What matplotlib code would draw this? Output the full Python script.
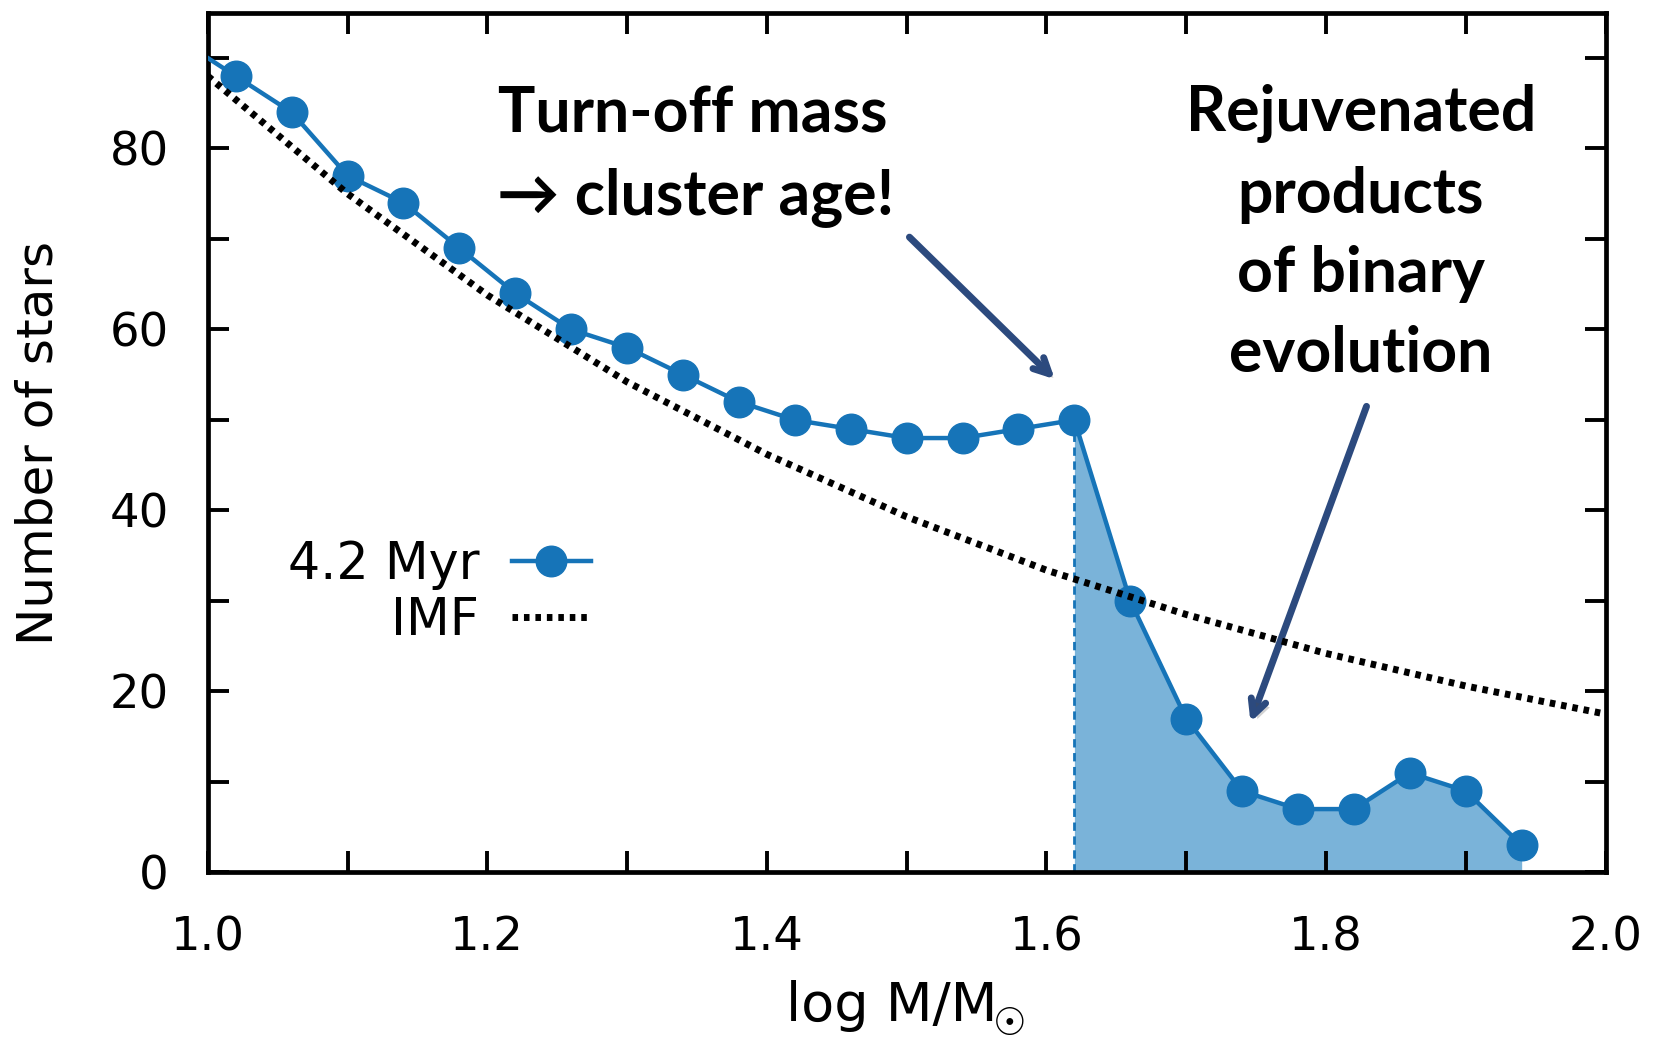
import matplotlib
matplotlib.use("Agg")
import matplotlib.pyplot as plt
import matplotlib.patheffects as pe
from matplotlib.ticker import MultipleLocator

# ---- data ----
mass = [0.98, 1.02, 1.06, 1.10, 1.14, 1.18, 1.22, 1.26, 1.30, 1.34, 1.38, 1.42,
        1.46, 1.50, 1.54, 1.58, 1.62, 1.66, 1.70, 1.74, 1.78, 1.82, 1.86, 1.90, 1.94]
stars = [92, 88, 84, 77, 74, 69, 64, 60, 58, 55, 52, 50,
         49, 48, 48, 49, 50, 30, 17, 9, 7, 7, 11, 9, 3]
imf_x = [1.0, 1.1, 1.2, 1.3, 1.4, 1.5, 1.6, 1.7, 1.8, 1.9, 2.0]
imf_y = [88, 75, 63.8, 54.2, 46.2, 39.3, 33.4, 28.5, 24.2, 20.6, 17.5]
turnoff = 1.62
series_label = "4.2 Myr"
imf_label = "IMF"
xticks = [1.0, 1.2, 1.4, 1.6, 1.8, 2.0]
yticks = [0, 20, 40, 60, 80]

BLUE = "#1674b8"
FILL = "#7ab3d9"
NAVY = "#2c4a7e"

plt.rcParams['font.family'] = ['DejaVu Sans']

fig = plt.figure(figsize=(16.54, 10.52), dpi=100)
ax = fig.add_axes([0.1256, 0.1707, 0.8451, 0.8172])

# shaded region beyond turn-off
sx = [m for m in mass if m >= turnoff - 1e-9]
sy = [s for m, s in zip(mass, stars) if m >= turnoff - 1e-9]
ax.fill_between(sx, 0, sy, color=FILL, lw=0, zorder=1)
ax.vlines(turnoff, 0, sy[0], colors=BLUE, linestyles=(0, (3, 2)), lw=2.0, zorder=2)

ax.plot(mass, stars, color=BLUE, lw=3.2, marker='o', ms=22, mec=BLUE, mfc=BLUE,
        label=series_label, zorder=3, clip_on=True)
ax.plot(imf_x, imf_y, color='black', lw=5.0, linestyle=(0, (0.8, 0.85)),
        label=imf_label, zorder=4)

ax.set_xlim(1.0, 2.0)
ax.set_ylim(0, 95)
ax.set_xticks(xticks)
ax.set_yticks(yticks)
ax.set_xticklabels([f"{t:.1f}" for t in xticks])
ax.xaxis.set_minor_locator(MultipleLocator(0.1))
ax.yaxis.set_minor_locator(MultipleLocator(10))
ax.tick_params(which='both', direction='in', top=True, right=True,
               length=15, width=2.8, color='black')
ax.tick_params(axis='x', which='major', labelsize=33.5, pad=31)
ax.tick_params(axis='y', which='major', labelsize=33.5, pad=28)
for sp in ax.spines.values():
    sp.set_linewidth(3.4)

ax.set_xlabel("log M/M", fontsize=39)
ax.xaxis.set_label_coords(0.489, -0.125)
# solar symbol subscript
ax.text(0.574, -0.1775, "\u2609", transform=ax.transAxes, fontsize=27,
        ha='center', va='center', color='black')
ax.set_ylabel("Number of stars", fontsize=36)
ax.yaxis.set_label_coords(-0.104, 0.5)

leg = ax.legend(loc='center right', bbox_to_anchor=(0.274, 0.325), frameon=False,
                markerfirst=False, fontsize=36.5, handlelength=1.55,
                handletextpad=0.65, labelspacing=0.12, borderpad=0, borderaxespad=0)

# annotations
tfont = dict(family=['Lato', 'DejaVu Sans'], fontweight='bold', fontsize=45,
             ha='center', va='center', color='black')
ax.text(1.347, 83.8, "Turn-off mass", **tfont)
ax.text(1.349, 74.6, "\u2192 cluster age!", **tfont)
right_lines = ["Rejuvenated", "products", "of binary", "evolution"]
right_y = [84.0, 74.9, 66.1, 57.3]
for s, yy in zip(right_lines, right_y):
    ax.text(1.825, yy, s, **tfont)

arrowprops = dict(arrowstyle='->,head_length=1.1,head_width=0.55', color=NAVY, lw=5,
                  shrinkA=0, shrinkB=0,
                  path_effects=[pe.SimplePatchShadow(offset=(3, -3), alpha=0.25),
                                pe.Normal()])
ax.annotate("", xy=(1.606, 54.5), xytext=(1.502, 70.2), arrowprops=arrowprops)
ax.annotate("", xy=(1.746, 16.6), xytext=(1.829, 51.5), arrowprops=arrowprops)

fig.savefig("out.png", dpi=100)
